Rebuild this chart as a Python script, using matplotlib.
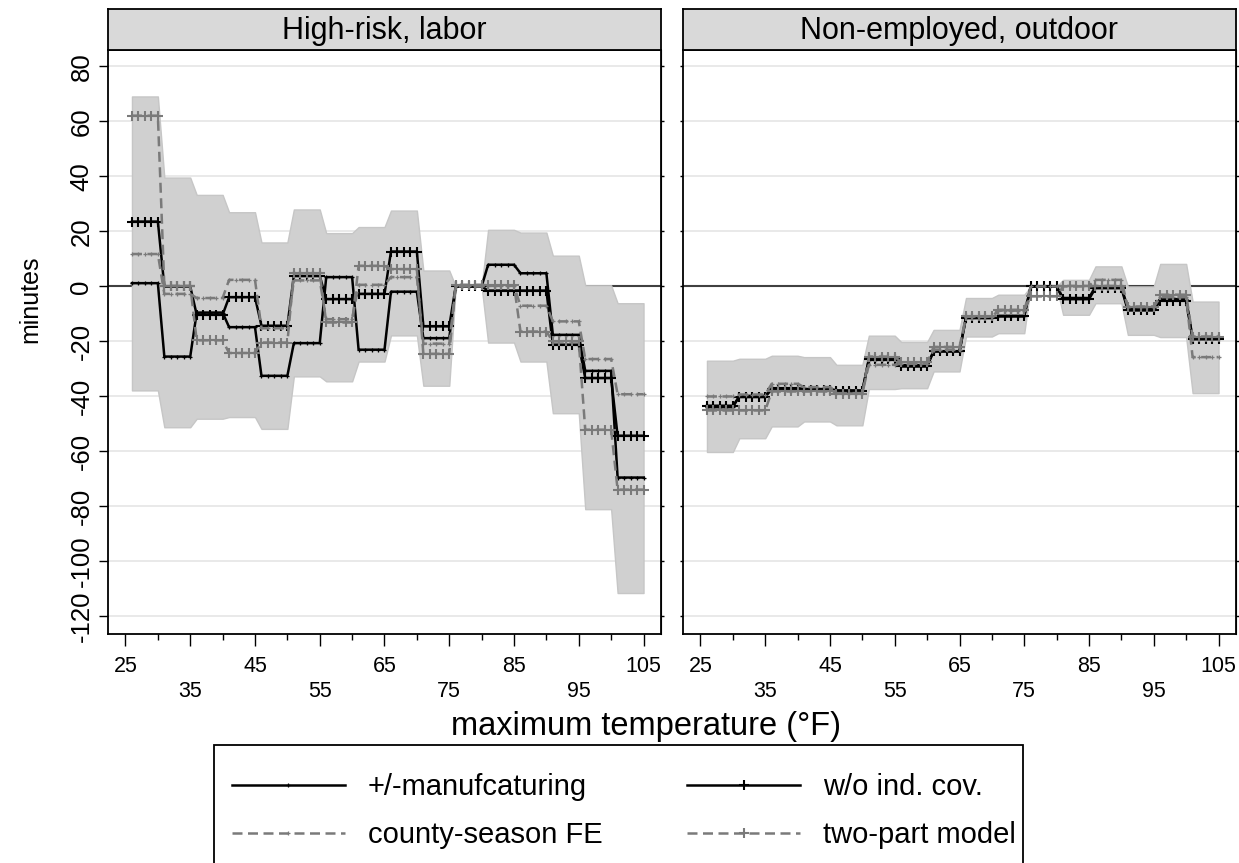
import matplotlib
matplotlib.use('Agg')
import matplotlib.pyplot as plt
import numpy as np
from matplotlib.lines import Line2D
from matplotlib.patches import Rectangle

plt.rcParams['font.family'] = ['Liberation Sans', 'DejaVu Sans']

# 5-degree temperature bins, 26-30 ... 101-105 (76-80 is the omitted bin)
bin_starts = [26, 31, 36, 41, 46, 51, 56, 61, 66, 71, 76, 81, 86, 91, 96, 101]
bin_width = 5

panels = ['High-risk, labor', 'Non-employed, outdoor']
series_names = ['+/-manufcaturing', 'w/o ind. cov.', 'county-season FE', 'two-part model']

# High-risk, labor
labor_manuf = [1.2, -25.5, -9.5, -14.8, -32.5, -20.6, 3.4, -23.0, -1.9, -18.8, 0.0, 7.9, 4.8, -17.6, -30.7, -69.5]
labor_nocov = [23.6, 0.0, -10.3, -3.9, -14.3, 3.8, -4.6, -2.7, 12.7, -14.5, 0.0, -1.5, -1.5, -21.2, -33.3, -54.3]
labor_cfe = [11.8, -2.7, -4.2, 2.4, -15.2, 2.2, -11.9, 0.6, 3.4, -20.8, 0.0, 0.2, -7.0, -12.7, -26.4, -39.2]
labor_twopart = [62.1, 0.2, -19.6, -24.2, -20.4, 4.8, -13.1, 7.5, 6.3, -24.5, 0.6, 0.4, -16.4, -20.0, -52.1, -73.9]
labor_hi = [69.1, 39.6, 33.3, 27.0, 16.0, 28.0, 19.4, 21.6, 27.6, 5.8, 0.0, 20.6, 19.6, 11.2, 0.4, -6.1]
labor_lo = [-37.8, -51.2, -48.1, -47.5, -51.8, -32.7, -34.5, -27.3, -17.8, -36.1, 0.0, -20.4, -27.3, -46.1, -81.0, -111.5]

# Non-employed, outdoor
nonemp_manuf = [-43.9, -39.8, -37.0, -37.3, -37.8, -26.7, -28.6, -23.6, -11.2, -10.7, 0.0, -4.2, 0.0, -8.2, -4.6, -18.8]
nonemp_nocov = [-43.4, -40.2, -37.3, -37.6, -38.2, -26.4, -29.1, -23.6, -11.5, -10.9, 0.0, -4.6, -0.6, -8.7, -5.2, -19.2]
nonemp_cfe = [-40.0, -39.3, -35.4, -36.6, -38.8, -28.5, -28.1, -23.0, -11.0, -8.8, 0.0, 0.2, 2.4, -7.5, -3.9, -25.7]
nonemp_twopart = [-45.1, -45.1, -38.2, -38.2, -39.0, -25.5, -27.6, -22.0, -10.9, -8.5, -3.6, 0.0, 0.2, -7.3, -3.0, -18.2]
nonemp_hi = [-27.0, -26.3, -25.2, -25.7, -28.5, -17.9, -20.2, -15.8, -4.2, -3.0, 0.0, 2.4, 7.3, 0.0, 8.2, -5.5]
nonemp_lo = [-60.2, -55.2, -50.9, -49.1, -50.5, -37.3, -37.0, -30.9, -18.2, -17.0, 0.0, -10.3, -6.1, -17.6, -18.4, -38.8]

xticks_major = [25, 35, 45, 55, 65, 75, 85, 95, 105]
xtick_labels = ['25', '\n35', '45', '\n55', '65', '\n75', '85', '\n95', '105']
xticks_minor = [30, 40, 50, 60, 70, 80, 90, 100]
yticks = [-120, -100, -80, -60, -40, -20, 0, 20, 40, 60, 80]

GRAY = '#7a7a7a'
BAND = '#d0d0d0'

W, H = 1239, 863


def box(x0, y0, x1, y1):
    # pixel box (top-left origin) -> figure fraction rect
    return [x0 / W, 1 - y1 / H, (x1 - x0) / W, (y1 - y0) / H]


temps = np.concatenate([np.arange(s, s + bin_width) for s in bin_starts])


def expand(vals):
    return np.repeat(vals, bin_width)


styles = [
    dict(color='black', lw=1.8, ls='-', marker='+', ms=3, mew=0.9),
    dict(color='black', lw=1.8, ls='-', marker='+', ms=7, mew=1.5),
    dict(color=GRAY, lw=1.8, ls=(0, (4, 2.2)), marker='+', ms=3, mew=0.9),
    dict(color=GRAY, lw=1.8, ls=(0, (4, 2.2)), marker='+', ms=7, mew=1.5),
]


def draw_panel(ax, strip, title, series, hi, lo, show_labels):
    ax.set_xlim(22.3, 107.7)
    ax.set_ylim(-126.4, 86)
    for y in yticks:
        ax.axhline(y, color='#e3e3e3', lw=1.1, zorder=0.5)
    ax.axhline(0, color='#404040', lw=1.5, zorder=1)
    ax.fill_between(temps, expand(lo), expand(hi), facecolor=BAND,
                    edgecolor='#c6c6c6', lw=1.0, zorder=2)
    for vals, st in zip(series, styles):
        ax.plot(temps, expand(vals), zorder=3, **st)

    ax.set_xticks(xticks_major)
    ax.set_xticklabels(xtick_labels, fontsize=15.5, linespacing=1.25)
    ax.set_xticks(xticks_minor, minor=True)
    ax.tick_params(axis='x', which='major', length=8.5, width=1.0, pad=7)
    ax.tick_params(axis='x', which='minor', length=4.3, width=1.0)
    ax.set_yticks(yticks)
    if show_labels:
        ax.set_yticklabels([str(v) for v in yticks], rotation=90, va='center', fontsize=18.5)
        ax.tick_params(axis='y', length=6.5, width=1.0, pad=4)
    else:
        ax.set_yticklabels([])
        ax.tick_params(axis='y', length=2.0, width=1.0)
    sec = ax.secondary_yaxis('right')
    sec.set_yticks(yticks)
    sec.set_yticklabels([])
    sec.tick_params(length=2.0, width=1.0)
    for sp in ax.spines.values():
        sp.set_linewidth(1.3)

    strip.set_facecolor('#d9d9d9')
    strip.set_xticks([])
    strip.set_yticks([])
    for sp in strip.spines.values():
        sp.set_linewidth(1.3)
    strip.text(0.5, 0.46, title, ha='center', va='center', fontsize=22,
               transform=strip.transAxes)


fig = plt.figure(figsize=(W / 100, H / 100), dpi=100)
ax1 = fig.add_axes(box(108, 50, 661, 634))
ax2 = fig.add_axes(box(683, 50, 1236, 634))
st1 = fig.add_axes(box(108, 9, 661, 50))
st2 = fig.add_axes(box(683, 9, 1236, 50))

draw_panel(ax1, st1, panels[0], [labor_manuf, labor_nocov, labor_cfe, labor_twopart],
           labor_hi, labor_lo, True)
draw_panel(ax2, st2, panels[1], [nonemp_manuf, nonemp_nocov, nonemp_cfe, nonemp_twopart],
           nonemp_hi, nonemp_lo, False)

fig.text(30 / W, 1 - 299 / H, 'minutes', rotation=90, ha='center', va='center', fontsize=18)
fig.text(646 / W, 1 - 727 / H, 'maximum temperature (°F)', ha='center', va='center', fontsize=23.5)

# legend with a frame running off the bottom edge
handles = [Line2D([], [], **st) for st in styles]
order = [0, 2, 1, 3]
fig.legend([handles[i] for i in order], [series_names[i] for i in order],
           ncol=2, loc='upper left', bbox_to_anchor=(232 / W, 1 - 773 / H),
           frameon=False, fontsize=21, numpoints=1, handlelength=3.87,
           handletextpad=0.79, columnspacing=2.9, labelspacing=0.69,
           borderpad=0, borderaxespad=0)
fig.add_artist(Rectangle((214 / W, 1 - 900 / H), (1023 - 214) / W, (900 - 745) / H,
                         transform=fig.transFigure, fill=False, lw=1.3, ec='black'))

fig.savefig('out.png', dpi=100)
